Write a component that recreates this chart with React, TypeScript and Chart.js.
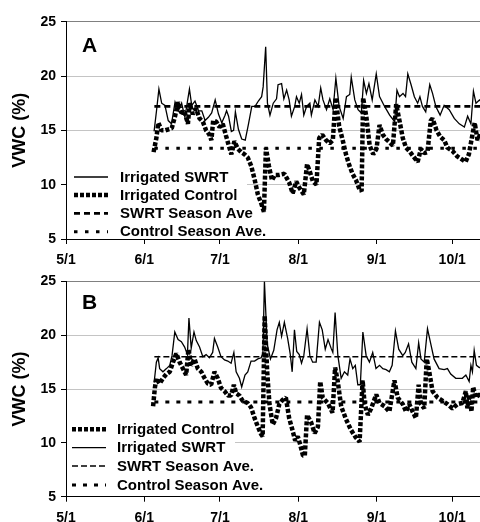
import React, { useEffect, useRef } from "react";
import { Chart, registerables } from "chart.js";

Chart.register(...registerables);

type Pt = [number, number]; // [days since May 1, VWC %]

// ---------- axis data ----------
const monthTickDays = [0, 31, 61, 92, 123, 153];
const monthTickLabels = ["5/1", "6/1", "7/1", "8/1", "9/1", "10/1"];
const yTickValues = [5, 10, 15, 20, 25];
const xMaxDay = 164;

// ---------- season averages ----------
const seasonSpanDays = [35, 165];
const aSwrtSeasonAve = 17.2;
const aControlSeasonAve = 13.35;
const bSwrtSeasonAve = 18.0;
const bControlSeasonAve = 13.8;

// ---------- Panel A ----------
const aSwrt: Pt[] = [
  [34.9, 14.9], [35.9, 16.9], [36.8, 18.8], [37.9, 17.5], [39.2, 17.3], [40.5, 15.9], [41.8, 15.6],
  [43.2, 17.6], [44.5, 16.8], [45.8, 17.5], [47.1, 16.2], [48.9, 18.8], [49.8, 17.3], [51.1, 17.7],
  [52.5, 16.8], [53.8, 16.8], [55.1, 15.9], [56.4, 16.2], [57.7, 16.6], [59.1, 17.8], [60.4, 16.5],
  [61.7, 15.7], [63, 16.4], [63.6, 16.8], [64.4, 16.3], [65.5, 14.9], [66.4, 15.0], [67.1, 16.7],
  [68.3, 15.1], [69.6, 14.2], [71, 14.1], [72.3, 15.6], [73.6, 17.2], [74.9, 17.2], [76.2, 17.7],
  [77.5, 18.1], [78.1, 19.0], [79.1, 22.7], [79.8, 17.5], [80.8, 16.4], [82.1, 17.5], [83.4, 17.9],
  [84, 19.2], [85.4, 19.3], [86.3, 17.9], [87.4, 18.7], [88.4, 17.8], [89.3, 16.3], [90.6, 17.2],
  [91.3, 18.1], [92.4, 17.5], [93.3, 18.3], [94.2, 16.4], [95.3, 17.2], [96.6, 17.5], [97.2, 16.4],
  [98.6, 17.8], [99.9, 17.2], [100.9, 18.9], [101.8, 17.8], [103.2, 16.9], [104.5, 17.9], [105.8, 16.9],
  [106.9, 19.8], [108.2, 17.2], [109.8, 16.1], [111.1, 18.1], [112.4, 18.3], [113, 19.9], [114.4, 17.8],
  [115.7, 16.9], [117, 16.6], [117.9, 19.6], [119, 18.4], [120, 19.3], [121.3, 17.8], [122.9, 20.2],
  [124.2, 18.1], [126.2, 17.2], [128.2, 16.4], [130.2, 15.8], [131.1, 18.7], [132.1, 18.1], [133.5, 18.4],
  [134.5, 18.1], [135.4, 20.2], [136.7, 19.2], [138, 18.1], [139.3, 17.5], [140.2, 18.1], [141.2, 17.2],
  [142.5, 16.7], [144.1, 19.2], [145.2, 18.4], [146.5, 17.2], [148.2, 16.4], [149.8, 17.3], [151.8, 16.9],
  [153.8, 16.1], [155.8, 15.6], [157.8, 15.3], [159.1, 16.3], [160.4, 15.6], [161.4, 18.6], [162.4, 17.5],
  [163.8, 17.8], [164.5, 17.6],
];

const aControl: Pt[] = [
  [34.7, 13.0], [35.8, 14.3], [36.6, 15.7], [37.8, 15.0], [39.3, 15.0], [40.6, 15.1], [41.9, 15.2],
  [43.2, 16.3], [44.4, 17.6], [45.7, 16.6], [47, 16.7], [48.3, 15.6], [49, 17.5], [50.2, 16.5],
  [51.5, 17.0], [52.9, 16.1], [54.2, 15.8], [55.5, 15.0], [56.8, 14.6], [57.6, 14.1], [58.3, 15.9],
  [59.5, 15.8], [60.8, 15.3], [62.1, 15.6], [63.4, 14.5], [64.6, 13.5], [65.5, 12.8], [66.7, 14.0],
  [68.1, 13.3], [69.4, 13.0], [70.7, 12.8], [72, 12.5], [73.4, 11.7], [74.7, 10.5], [76, 9.1],
  [77.3, 8.3], [78.4, 7.5], [79.2, 13.4], [80.4, 11.7], [81.6, 10.4], [82.8, 10.9], [84.5, 10.9],
  [86.5, 11.0], [88.4, 10.2], [89.8, 9.2], [91.2, 10.3], [92.5, 9.7], [94.2, 9.1], [95.5, 11.9],
  [96.6, 11.2], [97.8, 10.3], [99.2, 10.0], [100.3, 14.3], [101.5, 14.6], [103, 14.1], [104.4, 13.8],
  [105.7, 14.1], [106.8, 18.0], [108.2, 15.4], [109.6, 14.1], [110.9, 12.8], [112.2, 11.8], [113.5, 11.0],
  [114.9, 10.4], [116.2, 9.6], [117.1, 9.4], [117.7, 18.0], [119, 16.2], [120.3, 13.6], [121.7, 12.8],
  [123, 13.3], [124.2, 15.5], [125.5, 14.6], [126.8, 14.2], [128.2, 13.9], [129.5, 13.6], [130.8, 17.4],
  [132.1, 15.9], [133.4, 14.3], [134.7, 13.4], [136, 13.1], [137.6, 12.6], [139.3, 12.1], [140.6, 13.3],
  [141.9, 12.9], [143.2, 13.0], [144.5, 15.9], [145.2, 16.1], [146.8, 15.0], [148.3, 14.4], [149.8, 14.1],
  [151.1, 13.4], [153.1, 13.1], [155, 12.6], [157, 12.3], [158.3, 12.1], [159.6, 12.8], [161, 14.6],
  [161.9, 15.7], [163, 14.1], [164.5, 14.8],
];

// ---------- Panel B ----------
const bSwrt: Pt[] = [
  [34.9, 15.6], [35.8, 17.5], [36.5, 17.9], [37.1, 16.9], [38.4, 16.6], [39.8, 16.9], [41.1, 17.2],
  [42, 18.1], [43.1, 20.3], [44.4, 19.6], [45.7, 19.4], [47, 18.9], [48.1, 18.2], [48.7, 21.6],
  [49.6, 18.8], [50.7, 20.3], [51.6, 19.5], [52.9, 18.9], [54.2, 18.0], [55.5, 18.2], [56.8, 17.9],
  [58.1, 18.4], [58.8, 19.7], [60.1, 18.9], [61.4, 18.0], [62.8, 17.7], [64.1, 17.6], [65.4, 17.4],
  [66.5, 18.4], [67.4, 16.6], [68.7, 16.0], [69.6, 15.2], [70.9, 16.3], [72, 16.6], [73.3, 17.6],
  [74.7, 17.6], [76, 17.8], [77.3, 17.9], [78, 18.3], [78.6, 25.0], [79.7, 19.2], [81, 17.8],
  [82.3, 18.6], [83.6, 20.5], [84.5, 21.2], [85.4, 19.9], [86.5, 21.2], [87.8, 19.7], [88.8, 18.3],
  [89.6, 16.6], [90.5, 20.5], [91.4, 18.5], [92.4, 18.2], [93.3, 17.4], [94.2, 18.1], [95.5, 20.6],
  [96.6, 18.1], [97.7, 17.5], [99.1, 17.5], [100.4, 21.2], [101.5, 20.5], [102.7, 18.7], [103.8, 19.6],
  [105, 18.8], [105.7, 18.4], [106.6, 22.1], [107.7, 18.1], [109, 16.0], [110.3, 16.6], [111.6, 16.3],
  [112.5, 17.8], [113.6, 16.9], [114.6, 17.2], [115.6, 15.4], [116.6, 15.4], [117.6, 20.3], [118.9, 18.1],
  [120.2, 17.5], [121.5, 18.4], [122.8, 16.9], [124.2, 17.2], [125.5, 16.9], [126.8, 16.8], [128.1, 16.6],
  [129.2, 17.2], [130.5, 20.4], [131.8, 18.7], [133.4, 18.1], [134.4, 18.4], [135.7, 19.2], [137, 17.5],
  [138.6, 16.9], [139.7, 19.3], [140.6, 17.8], [141.9, 17.5], [143.2, 20.6], [144.5, 19.2], [145.8, 17.8],
  [147.8, 16.9], [149.8, 16.8], [151.1, 16.9], [152.4, 16.4], [154.4, 16.0], [157, 16.0], [158.4, 16.3],
  [159.7, 15.7], [160.4, 17.2], [161, 16.6], [161.7, 18.6], [162.6, 17.2], [163.7, 17.0], [164.5, 17.0],
];

const bControl: Pt[] = [
  [34.5, 13.4], [35.2, 15.1], [35.8, 16.0], [37.1, 15.5], [38.4, 16.0], [39.8, 16.4], [41.1, 16.6],
  [42.4, 17.5], [43.7, 18.3], [45, 17.5], [46.3, 16.9], [47.6, 16.3], [48.5, 18.7], [49.6, 17.2],
  [50.9, 17.8], [52.2, 16.9], [53.6, 16.6], [54.9, 16.0], [56.2, 15.5], [57.5, 15.4], [58.8, 16.6],
  [60.1, 16.0], [61.4, 15.1], [62.8, 14.8], [64.1, 14.4], [65.4, 14.4], [66.5, 15.4], [67.4, 14.6],
  [68.7, 14.4], [70, 13.9], [72, 13.7], [73.3, 13.3], [74.7, 12.3], [76, 11.5], [77.3, 10.8],
  [77.9, 10.6], [78.7, 21.8], [79.7, 16.6], [80.6, 13.6], [81.9, 11.7], [83.2, 12.3], [84.5, 13.6],
  [85.8, 14.0], [87.1, 14.2], [88.4, 12.3], [89.7, 11.2], [90.8, 10.2], [91.8, 10.6], [92.7, 9.9],
  [93.9, 8.8], [94.6, 8.8], [95.5, 12.6], [97.1, 11.9], [98.5, 10.9], [99.8, 11.5], [100.7, 15.7],
  [101.7, 14.2], [103.7, 13.7], [105.6, 12.8], [106.6, 17.0], [107.6, 15.8], [109, 13.4], [110.9, 12.2],
  [112.9, 11.2], [114.8, 10.5], [116.3, 10.1], [117.5, 15.8], [118.3, 13.6], [119.6, 12.6], [120.9, 13.2],
  [122.9, 14.5], [124.2, 13.7], [126.2, 13.4], [128.1, 12.9], [130.1, 15.8], [131.4, 14.2], [133.4, 13.6],
  [134.7, 12.9], [136, 13.6], [137.3, 12.9], [138.6, 12.3], [139.7, 15.4], [140.6, 13.6], [141.9, 13.2],
  [142.9, 17.8], [143.9, 16.6], [145.2, 14.8], [147.2, 14.2], [149.2, 13.9], [151.1, 13.6], [153.1, 13.2],
  [155.1, 13.6], [157, 13.7], [158.4, 14.8], [159, 13.2], [159.9, 14.5], [160.6, 12.9], [161.3, 15.2],
  [162.3, 14.2], [163.7, 14.5], [164.5, 14.3],
];

// ---------- styling / layout (not data) ----------
const FONT = "'Liberation Sans', Arial, Helvetica, sans-serif";

interface SeriesSpec {
  label: string;
  points: { x: number; y: number }[];
  width: number;
  dash: number[];
  order: number;
  join: "miter" | "bevel" | "round";
}

interface PanelSpec {
  id: string;
  letter: string;
  height: number;
  padTop: number;
  xAxisHeight: number;
  legend: SeriesSpec[];
  legendBox: [number, number, number, number];
  legendRows: number[];
  legendLineX: [number, number];
  legendTextX: number;
  letterPos: [number, number];
}

const toXY = (pts: Pt[]) => pts.map(([x, y]) => ({ x, y }));
const flat = (v: number) => seasonSpanDays.map((d) => ({ x: d, y: v }));

function buildConfig(spec: PanelSpec) {
  const overlay = {
    id: "overlay" + spec.id,
    afterDatasetsDraw(chart: any) {
      const ctx = chart.ctx as CanvasRenderingContext2D;
      ctx.save();
      const [bx, by, bw, bh] = spec.legendBox;
      ctx.fillStyle = "#ffffff";
      ctx.fillRect(bx, by, bw, bh);
      spec.legend.forEach((s, i) => {
        const y = spec.legendRows[i];
        ctx.beginPath();
        ctx.setLineDash(s.dash);
        ctx.lineWidth = s.width;
        ctx.lineCap = "butt";
        ctx.strokeStyle = "#000";
        ctx.moveTo(spec.legendLineX[0], y);
        ctx.lineTo(spec.legendLineX[1], y);
        ctx.stroke();
        ctx.setLineDash([]);
        ctx.fillStyle = "#000";
        ctx.font = `bold 15px ${FONT}`;
        ctx.textBaseline = "middle";
        ctx.textAlign = "left";
        ctx.fillText(s.label, spec.legendTextX, y + 0.5);
      });
      ctx.font = `bold 21px ${FONT}`;
      ctx.textBaseline = "middle";
      ctx.textAlign = "left";
      ctx.fillStyle = "#000";
      ctx.fillText(spec.letter, spec.letterPos[0], spec.letterPos[1]);
      ctx.restore();
    },
  };

  return {
    type: "line" as const,
    data: {
      datasets: spec.legend.map((s) => ({
        label: s.label,
        data: s.points,
        borderColor: "#000",
        backgroundColor: "#000",
        borderWidth: s.width,
        borderDash: s.dash,
        borderCapStyle: "butt" as const,
        borderJoinStyle: s.join,
        pointRadius: 0,
        fill: false,
        tension: 0,
        order: s.order,
      })),
    },
    options: {
      animation: false as const,
      responsive: false,
      devicePixelRatio: 1,
      layout: { padding: { top: spec.padTop, right: 0, bottom: 0, left: 0 } },
      plugins: { legend: { display: false }, tooltip: { enabled: false } },
      scales: {
        x: {
          type: "linear" as const,
          min: 0,
          max: xMaxDay,
          afterBuildTicks: (s: any) => {
            s.ticks = monthTickDays.map((v) => ({ value: v }));
          },
          afterFit: (s: any) => {
            s.height = spec.xAxisHeight;
          },
          ticks: {
            autoSkip: false,
            maxRotation: 0,
            padding: 8,
            color: "#000",
            font: { family: FONT, size: 14, weight: "bold" as const },
            callback: (_v: any, i: number) => monthTickLabels[i],
          },
          grid: { drawOnChartArea: false, tickLength: 5, tickColor: "#000" },
          border: { color: "#000", width: 1 },
        },
        y: {
          type: "linear" as const,
          min: 5,
          max: 25,
          afterBuildTicks: (s: any) => {
            s.ticks = yTickValues.map((v) => ({ value: v }));
          },
          afterFit: (s: any) => {
            s.width = 66;
          },
          ticks: {
            padding: 5,
            color: "#000",
            font: { family: FONT, size: 14, weight: "bold" as const },
            callback: (v: any) => String(v),
          },
          grid: {
            color: (c: any) => {
              const v = c.tick ? c.tick.value : null;
              if (v === 25) return "#808080";
              if (v === 5) return "rgba(0,0,0,0)";
              return "#c4c4c4";
            },
            tickColor: "#000",
            tickLength: 5,
          },
          border: { color: "#000", width: 1 },
          title: {
            display: true,
            text: "VWC (%)",
            color: "#000",
            font: { family: FONT, size: 18, weight: "bold" as const },
            padding: { top: 9, bottom: 0 },
          },
        },
      },
    },
    plugins: [overlay],
  };
}

function Panel({ spec }: { spec: PanelSpec }) {
  const ref = useRef<HTMLCanvasElement | null>(null);
  useEffect(() => {
    if (!ref.current) return;
    const chart = new Chart(ref.current, buildConfig(spec) as any);
    return () => chart.destroy();
  }, [spec]);
  return (
    <canvas
      ref={ref}
      width={480}
      height={spec.height}
      style={{ display: "block", width: "480px", height: spec.height + "px" }}
    />
  );
}

const panelA: PanelSpec = {
  id: "A",
  letter: "A",
  height: 268,
  padTop: 21.7,
  xAxisHeight: 29,
  legend: [
    { label: "Irrigated SWRT", points: toXY(aSwrt), width: 1.3, dash: [], order: 2, join: "miter" },
    { label: "Irrigated Control", points: toXY(aControl), width: 4.5, dash: [4, 2], order: 3, join: "bevel" },
    { label: "SWRT Season Ave", points: flat(aSwrtSeasonAve), width: 2.8, dash: [6, 4], order: 1, join: "miter" },
    { label: "Control Season Ave.", points: flat(aControlSeasonAve), width: 3, dash: [3.5, 7.5], order: 0, join: "miter" },
  ],
  legendBox: [67, 167, 180, 71],
  legendRows: [177, 195, 213.3, 231.7],
  legendLineX: [74, 108],
  legendTextX: 120,
  letterPos: [82, 46],
};

const panelB: PanelSpec = {
  id: "B",
  letter: "B",
  height: 254,
  padTop: 10.3,
  xAxisHeight: 25.3,
  legend: [
    { label: "Irrigated Control", points: toXY(bControl), width: 4.5, dash: [4, 2], order: 3, join: "bevel" },
    { label: "Irrigated SWRT", points: toXY(bSwrt), width: 1.3, dash: [], order: 2, join: "miter" },
    { label: "SWRT Season Ave.", points: flat(bSwrtSeasonAve), width: 1.3, dash: [6, 3], order: 1, join: "miter" },
    { label: "Control Season Ave.", points: flat(bControlSeasonAve), width: 3, dash: [4, 7], order: 0, join: "miter" },
  ],
  legendBox: [67, 151, 168, 77],
  legendRows: [161.3, 179.7, 198, 217],
  legendLineX: [72, 106],
  legendTextX: 117,
  letterPos: [82, 35],
};

export default function App() {
  return (
    <div style={{ position: "absolute", left: 0, top: 0, width: 480, height: 522, background: "#fff" }}>
      <Panel spec={panelA} />
      <Panel spec={panelB} />
    </div>
  );
}
